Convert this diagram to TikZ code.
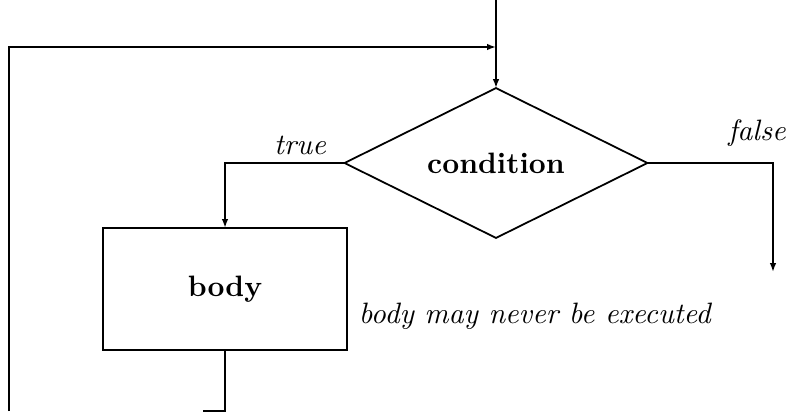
\documentclass[tikz,border=0pt]{standalone}
\usetikzlibrary{shapes.geometric,arrows.meta}
\begin{document}
\begin{tikzpicture}[x=0.339pt,y=-0.339pt,
  line width=0.6pt,
  flow/.style={-{Latex[length=3pt,width=2.2pt]}},
  decision/.style={diamond,aspect=2,draw,minimum width=102.7pt,minimum height=50.8pt,
    inner sep=0pt,outer sep=0pt,font=\bfseries},
  process/.style={rectangle,draw,minimum width=82.7pt,minimum height=41.4pt,
    inner sep=0pt,outer sep=0pt,font=\bfseries},
  branchtext/.style={font=\itshape,inner sep=0pt}]
\useasboundingbox (0,0) rectangle (786,411);

% nodes
\node[decision] (cond) at (496,163) {condition};
\node[process] (body) at (225,289) {body};
\node[branchtext] (t) at (300,145) {true};
\node[branchtext] (f) at (757,133) {false};
\node[branchtext,anchor=west] (note) at (358,316) {body may never be executed};

% free ends of the connectors
\coordinate (entry) at (496,0);
\coordinate (join) at (496,47);
\coordinate (exit) at (773,272);
\coordinate (back) at (225,411);
\coordinate (backleft) at (203,411);
\coordinate (loopstart) at (9,411);

% connectors
\draw[flow] (entry) -- (cond.north);
\draw[flow] (cond.west) -| (body.north);
\draw[flow] (cond.east) -| (exit);
\draw (body.south) -- (back) -- (backleft);
\draw[flow] (loopstart) |- (join);
\end{tikzpicture}
\end{document}
